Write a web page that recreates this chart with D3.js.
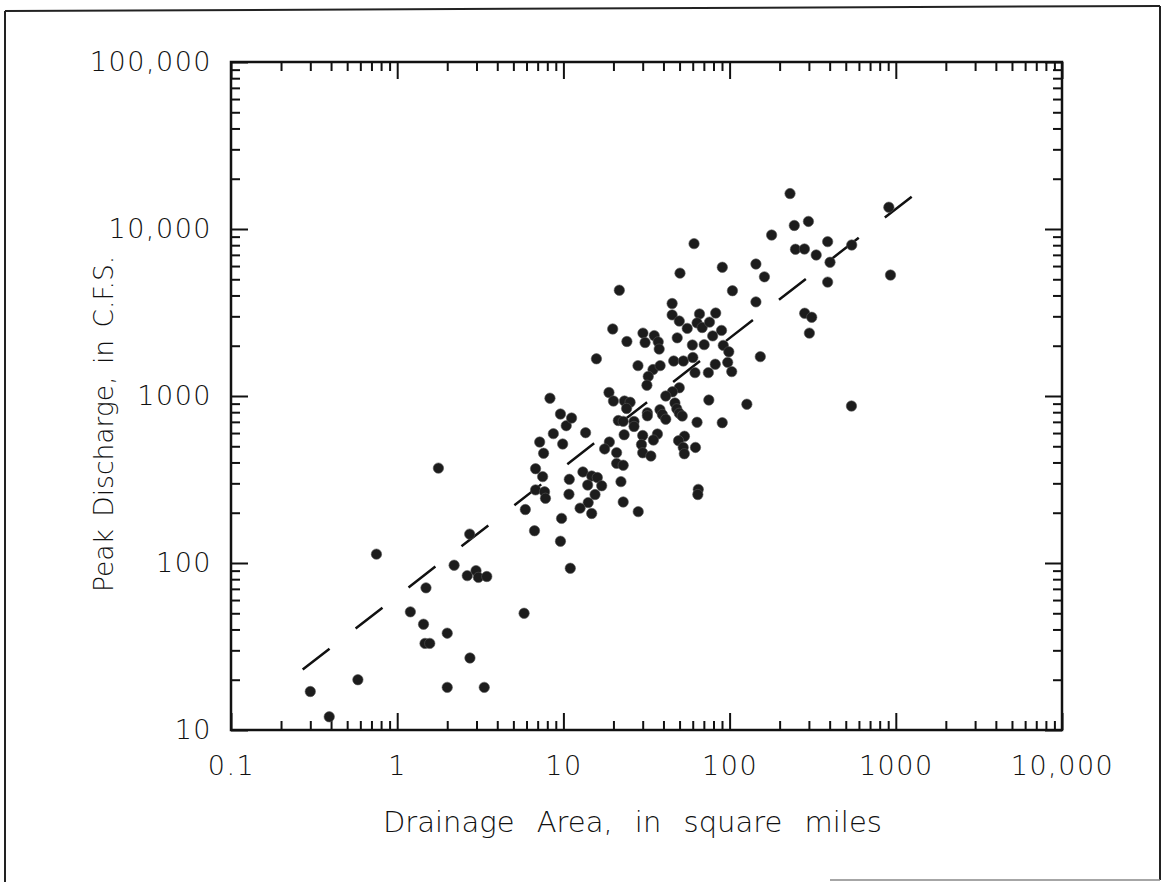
<!DOCTYPE html>
<html>
<head>
<meta charset="utf-8">
<script src="https://cdn.jsdelivr.net/npm/d3@7"></script>
<style>
  body { margin: 0; background: #ffffff; }
  svg { display: block; }
  .lbl { font-family: "DejaVu Sans", sans-serif; font-weight: 200; fill: #111; }
</style>
</head>
<body>
<svg id="chart" width="1163" height="882"></svg>
<script>
// Drainage area (sq mi) and peak discharge (cfs)
var drainageArea = [0.30, 0.39, 0.58, 0.75, 1.2, 1.44, 1.47, 1.57, 1.49, 2.0,
  2.0, 2.2, 2.64, 2.73, 2.74, 2.98, 3.08, 3.34, 3.46, 5.8,
  1.77, 5.9, 6.7, 9.6, 11.0, 9.75, 6.8, 7.7, 7.8, 10.8,
  6.8, 7.5, 10.85, 7.2, 7.6, 8.7, 9.9, 10.4, 9.6, 11.2,
  8.3, 13.6, 13.1, 14.8, 16.0, 14.0, 17.0, 15.5, 14.1, 12.6,
  14.8, 15.8, 18.8, 20.0, 23.3, 25.2, 24.0, 21.4, 22.9, 26.6,
  26.6, 23.2, 30.0, 36.8, 34.8, 29.5, 30.0, 33.6, 18.9, 17.7,
  20.9, 20.9, 22.9, 22.2, 22.9, 28.2, 21.7, 19.8, 24.1, 30.1,
  31.0, 35.2, 37.2, 37.7, 28.1, 34.6, 38.2, 32.4, 31.8, 46.1,
  52.7, 60.1, 45.1, 45.1, 49.8, 55.6, 48.4, 59.7, 70.3, 65.9,
  63.7, 68.4, 75.7, 82.5, 89.4, 79.1, 91.6, 98.9, 97.4, 103,
  82.0, 74.5, 61.9, 49.8, 45.3, 41.3, 46.9, 48.1, 49.8, 51.9,
  38.1, 39.4, 41.3, 32.0, 32.0, 63.7, 90.3, 75.0, 127, 53.5,
  49.3, 52.6, 53.4, 62.3, 64.8, 64.4, 50.3, 61.1, 90.4, 144,
  162, 104, 144, 153, 179, 231, 245, 298, 249, 282,
  332, 389, 402, 389, 543, 283, 312, 302, 908, 929,
  541];

var peakDischarge = [17, 12, 20, 113, 51, 43, 33, 33, 71, 38,
  18, 97, 84, 149, 27, 90, 82, 18, 83, 50,
  370, 209, 156, 135, 93, 185, 274, 267, 244, 258,
  367, 329, 317, 530, 454, 595, 516, 664, 780, 738,
  970, 603, 351, 332, 325, 293, 290, 257, 230, 213,
  198, 1670, 1050, 933, 933, 917, 842, 713, 705, 704,
  657, 586, 580, 592, 545, 512, 457, 437, 530, 482,
  458, 395, 385, 307, 232, 203, 4300, 2520, 2120, 2380,
  2090, 2300, 2110, 1910, 1520, 1440, 1520, 1310, 1160, 1620,
  1620, 1700, 3580, 3060, 2810, 2540, 2230, 2020, 2030, 3100,
  2740, 2570, 2770, 3140, 2470, 2290, 2010, 1840, 1590, 1400,
  1550, 1380, 1380, 1120, 1060, 1000, 908, 838, 788, 759,
  828, 775, 726, 793, 761, 696, 692, 946, 893, 574,
  540, 492, 451, 492, 276, 257, 5440, 8170, 5900, 6170,
  5170, 4270, 3660, 1720, 9200, 16300, 10500, 11100, 7560, 7590,
  6990, 8400, 6320, 4810, 8020, 3130, 2960, 2380, 13500, 5300,
  871];

// dashed fit line, two end points
var fitArea = [0.27, 1340];
var fitPeak = [23, 16500];

var xTicks = [0.1, 1, 10, 100, 1000, 10000];
var xTickLabels = ["0.1", "1", "10", "100", "1000", "10,000"];
var yTicks = [10, 100, 1000, 10000, 100000];
var yTickLabels = ["10", "100", "1000", "10,000", "100,000"];

var xTitle = "Drainage Area, in square miles";
var yTitle = "Peak Discharge, in C.F.S.";

var svg = d3.select("#chart");

// plot box
var plotL = 231, plotR = 1062, plotT = 62, plotB = 730;

var x = d3.scaleLog().domain([0.1, 10000]).range([plotL, plotR]);
var y = d3.scaleLog().domain([10, 100000]).range([plotB, plotT]);

// minor ticks 2..9 in every decade
function minors(majors) {
  var out = [];
  for (var i = 0; i < majors.length - 1; i++) {
    for (var k = 2; k <= 9; k++) out.push(majors[i] * k);
  }
  return out;
}
var xMinor = minors(xTicks);
var yMinor = minors(yTicks);

// outer frame of the scanned page
var frame = svg.append("g").attr("stroke", "#222").attr("stroke-width", 2).attr("fill", "none");
frame.append("line").attr("x1", 5).attr("y1", 11).attr("x2", 5).attr("y2", 882);
frame.append("line").attr("x1", 5).attr("y1", 11).attr("x2", 1160).attr("y2", 6);
frame.append("line").attr("x1", 1160).attr("y1", 6).attr("x2", 1160).attr("y2", 880);
frame.append("line").attr("x1", 830).attr("y1", 880).attr("x2", 1160).attr("y2", 880)
  .attr("stroke", "#888").attr("stroke-width", 1.5);

// ticks on all four sides, pointing inward
function tickAxis(axis, vals, len, tx, ty) {
  var g = svg.append("g")
    .attr("transform", "translate(" + tx + "," + ty + ")")
    .call(axis.tickValues(vals).tickSize(-len).tickFormat(""));
  g.select(".domain").remove();
  g.selectAll(".tick line").attr("stroke", "#111").attr("stroke-width", 2);
  return g;
}
tickAxis(d3.axisBottom(x), xMinor, 9, 0, plotB);
tickAxis(d3.axisBottom(x), xTicks, 17, 0, plotB);
tickAxis(d3.axisTop(x), xMinor, 9, 0, plotT);
tickAxis(d3.axisTop(x), xTicks, 17, 0, plotT);
tickAxis(d3.axisLeft(y), yMinor, 9, plotL, 0);
tickAxis(d3.axisLeft(y), yTicks, 17, plotL, 0);
tickAxis(d3.axisRight(y), yMinor, 9, plotR, 0);
tickAxis(d3.axisRight(y), yTicks, 17, plotR, 0);

// tick labels
var xLab = svg.append("g")
  .attr("transform", "translate(0," + plotB + ")")
  .call(d3.axisBottom(x).tickValues(xTicks).tickSize(0).tickPadding(26)
    .tickFormat(function(d, i) { return xTickLabels[i]; }));
xLab.select(".domain").remove();
xLab.selectAll("text").attr("class", "lbl").style("font-size", "27px").attr("letter-spacing", 1.5);

var yLab = svg.append("g")
  .attr("transform", "translate(" + plotL + ",0)")
  .call(d3.axisLeft(y).tickValues(yTicks).tickSize(0).tickPadding(19)
    .tickFormat(function(d, i) { return yTickLabels[i]; }));
yLab.select(".domain").remove();
yLab.selectAll("text").attr("class", "lbl").style("font-size", "27px").attr("letter-spacing", 1.5);

// plot box
svg.append("rect")
  .attr("x", plotL).attr("y", plotT)
  .attr("width", plotR - plotL).attr("height", plotB - plotT)
  .attr("fill", "none").attr("stroke", "#111").attr("stroke-width", 2.5);

// dashed regression line
var fit = fitArea.map(function(a, i) { return [a, fitPeak[i]]; });
svg.append("path")
  .datum(fit)
  .attr("d", d3.line().x(function(d) { return x(d[0]); }).y(function(d) { return y(d[1]); }))
  .attr("fill", "none")
  .attr("stroke", "#111")
  .attr("stroke-width", 2.5)
  .attr("stroke-dasharray", "34,33");

// the gaged sites
svg.append("g")
  .selectAll("circle")
  .data(drainageArea)
  .enter().append("circle")
    .attr("cx", function(d) { return x(d); })
    .attr("cy", function(d, i) { return y(peakDischarge[i]); })
    .attr("r", 5.2)
    .attr("fill", "#1c1c1c")
    .attr("stroke", "#555")
    .attr("stroke-width", 0.6);

// axis titles
svg.append("text")
  .attr("class", "lbl")
  .attr("x", 383).attr("y", 832)
  .style("font-size", "29px")
  .attr("word-spacing", 13)
  .text(xTitle);

svg.append("text")
  .attr("class", "lbl")
  .attr("transform", "translate(113,592) rotate(-90)")
  .style("font-size", "26.5px")
  .attr("word-spacing", 4)
  .text(yTitle);
</script>
</body>
</html>
